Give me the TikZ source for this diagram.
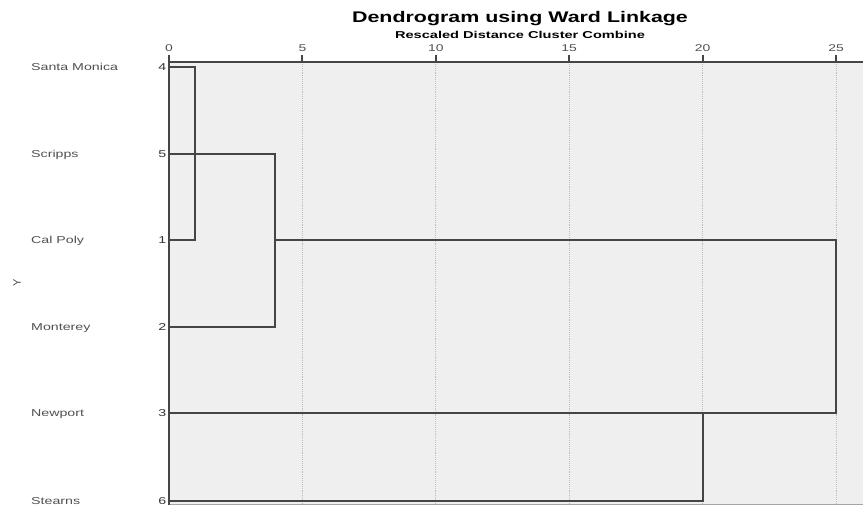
\documentclass[tikz,border=0pt]{standalone}
\usepackage{fontspec}
\setmainfont{Liberation Sans}
\usetikzlibrary{positioning}
\definecolor{plotbg}{HTML}{EFEFEF}
\definecolor{treeline}{HTML}{454545}
\definecolor{labelgray}{HTML}{505050}
\newcommand{\wide}[2][1.42]{\scalebox{#1}[1]{#2}}

\begin{document}
\begin{tikzpicture}[x=1pt,y=-1pt]
\tikzstyle{titletext} = [inner sep=0pt, text height=11pt, text depth=0pt,
font=\fontsize{15.4}{17}\selectfont\bfseries];
\tikzstyle{subtitletext} = [inner sep=0pt, text height=7pt, text depth=0pt,
font=\fontsize{10}{12}\selectfont\bfseries];
\tikzstyle{leafname} = [anchor=west, inner sep=0pt, text height=7pt, text depth=0pt,
text=labelgray, font=\fontsize{10}{12}\selectfont];
\tikzstyle{leafnum} = [anchor=east, inner ysep=0pt, inner xsep=2.5pt, text height=7pt,
text depth=0pt, text=black!80, font=\fontsize{10}{12}\selectfont];
\tikzstyle{ticklabel} = [inner sep=0pt, text height=7pt, text depth=0pt,
text=labelgray, font=\fontsize{9.8}{11}\selectfont];
\tikzstyle{grid} = [draw=black!25, densely dotted, line width=0.9pt];
\tikzstyle{frame} = [draw=treeline, line width=2pt];
\tikzstyle{tree} = [draw=treeline, line width=1.4pt];

\useasboundingbox (0,0) rectangle (863,510);
% plot area
\fill[plotbg] (169,62) rectangle (863,505);
\draw[black!35, line width=1pt] (169,504.5) -- (863,504.5);

% title
\node[titletext] (title) at (520,17) {\wide[1.39]{Dendrogram using Ward Linkage}};
\node[subtitletext, below=8.5pt of title] (subtitle) {\wide[1.46]{Rescaled Distance Cluster Combine}};

% axis
\foreach \d in {0,5,...,25} {
  \node[ticklabel] (t\d) at ({169+26.68*\d},48) {\wide{\d}};
  \draw[frame] ({169+26.68*\d},55) -- ({169+26.68*\d},63);
}
\foreach \d in {5,10,...,25}
  \path[grid] ({169+26.68*\d},64) -- ({169+26.68*\d},503);
\path[frame] (169,62) -- (863,62);
\path[frame] (169,55) -- (169,505);

\node[text=labelgray, rotate=90, font=\fontsize{11}{12}\selectfont] (yaxis) at (17,283) {Y};

% leaves
\node[leafname] (sm) at (31,67) {\wide{Santa Monica}};
\node[leafnum] (n4) at (169,67) {\wide{4}};
\node[leafname] (sc) at (31,154) {\wide{Scripps}};
\node[leafnum] (n5) at (169,154) {\wide{5}};
\node[leafname] (cp) at (31,240) {\wide{Cal Poly}};
\node[leafnum] (n1) at (169,240) {\wide{1}};
\node[leafname] (mo) at (31,327) {\wide{Monterey}};
\node[leafnum] (n2) at (169,327) {\wide{2}};
\node[leafname] (np) at (31,413) {\wide{Newport}};
\node[leafnum] (n3) at (169,413) {\wide{3}};
\node[leafname] (st) at (31,501) {\wide{Stearns}};
\node[leafnum] (n6) at (169,501) {\wide{6}};

% joins
\coordinate (j41) at (195,154);
\coordinate (j52) at (275,240);
\coordinate (j36) at (703,413);
\coordinate (jall) at (836,327);

\path[tree] (n4.east) -| (j41) |- (n1.east);
\path[tree] (n5.east) -| (j52) |- (n2.east);
\path[tree] (j52) -| (jall) |- (n3.east);
\path[tree] (n6.east) -| (j36);
\end{tikzpicture}
\end{document}
